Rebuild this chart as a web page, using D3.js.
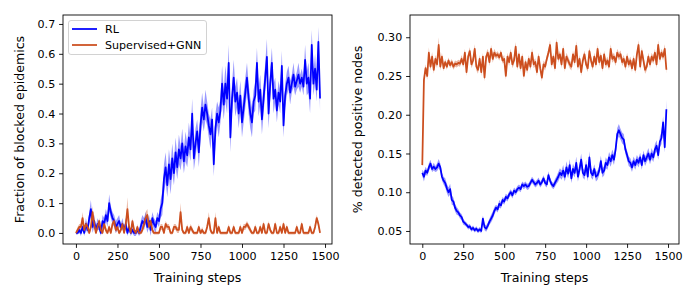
<!DOCTYPE html>
<html>
<head>
<meta charset="utf-8">
<script src="https://cdn.jsdelivr.net/npm/d3@7"></script>
<style>
  body { margin: 0; background: #fff; }
  svg { font-family: "DejaVu Sans", sans-serif; }
</style>
</head>
<body>
<script>
// left panel: fraction of blocked epidemics, steps 0..1470 every 10
var rlBlocked = [
  0.0, 0.0, 0.01, 0.0, 0.02, 0.0, 0.03, 0.01, 0.05, 0.08,
  0.02, 0.04, 0.01, 0.03, 0.02, 0.0, 0.04, 0.03, 0.06, 0.04,
  0.10, 0.07, 0.05, 0.04, 0.02, 0.03, 0.04, 0.02, 0.03, 0.01,
  0.03, 0.0, 0.02, 0.0, 0.01, 0.0, 0.0, 0.01, 0.0, 0.02,
  0.04, 0.03, 0.05, 0.02, 0.04, 0.01, 0.05, 0.03, 0.02, 0.05,
  0.04, 0.08, 0.10, 0.18, 0.22, 0.16, 0.23, 0.18, 0.25, 0.20,
  0.27, 0.22, 0.28, 0.25, 0.30, 0.24, 0.29, 0.26, 0.32, 0.28,
  0.40, 0.25, 0.30, 0.34, 0.27, 0.36, 0.42, 0.38, 0.43, 0.40,
  0.36, 0.33, 0.38, 0.23, 0.35, 0.40, 0.37, 0.41, 0.50, 0.43,
  0.50, 0.45, 0.57, 0.32, 0.45, 0.52, 0.44, 0.47, 0.40, 0.46,
  0.37, 0.42, 0.47, 0.52, 0.45, 0.40, 0.37, 0.44, 0.46, 0.57,
  0.44, 0.48, 0.38, 0.45, 0.52, 0.59, 0.40, 0.50, 0.57, 0.45,
  0.48, 0.41, 0.47, 0.44, 0.56, 0.36, 0.46, 0.50, 0.52, 0.47,
  0.50, 0.53, 0.49, 0.51, 0.53, 0.50, 0.52, 0.49, 0.58, 0.50,
  0.52, 0.45, 0.63, 0.50, 0.55, 0.48, 0.64, 0.45
];
var rlBlockedSpread = [
  0.005, 0.005, 0.01, 0.01, 0.01, 0.01, 0.02, 0.01, 0.02, 0.03,
  0.02, 0.02, 0.01, 0.02, 0.01, 0.01, 0.02, 0.02, 0.02, 0.02,
  0.03, 0.02, 0.02, 0.02, 0.02, 0.02, 0.02, 0.01, 0.02, 0.01,
  0.02, 0.01, 0.01, 0.01, 0.01, 0.01, 0.01, 0.01, 0.01, 0.02,
  0.02, 0.02, 0.02, 0.02, 0.02, 0.02, 0.02, 0.02, 0.02, 0.02,
  0.02, 0.03, 0.04, 0.05, 0.05, 0.04, 0.05, 0.05, 0.05, 0.04,
  0.05, 0.04, 0.05, 0.04, 0.05, 0.04, 0.05, 0.04, 0.05, 0.04,
  0.05, 0.04, 0.05, 0.04, 0.05, 0.05, 0.05, 0.04, 0.05, 0.04,
  0.04, 0.05, 0.04, 0.04, 0.05, 0.04, 0.05, 0.04, 0.06, 0.05,
  0.06, 0.05, 0.06, 0.05, 0.05, 0.06, 0.05, 0.05, 0.05, 0.05,
  0.05, 0.05, 0.05, 0.05, 0.05, 0.05, 0.05, 0.04, 0.05, 0.05,
  0.05, 0.05, 0.05, 0.05, 0.05, 0.06, 0.05, 0.05, 0.05, 0.05,
  0.04, 0.04, 0.04, 0.04, 0.05, 0.04, 0.04, 0.04, 0.04, 0.04,
  0.03, 0.04, 0.03, 0.03, 0.04, 0.03, 0.03, 0.03, 0.05, 0.04,
  0.05, 0.05, 0.05, 0.04, 0.05, 0.04, 0.05, 0.04
];
var gnnBlocked = [
  0.0, 0.01, 0.02, 0.02, 0.05, 0.01, 0.03, 0.02, 0.0, 0.02,
  0.07, 0.03, 0.0, 0.02, 0.04, 0.01, 0.0, 0.03, 0.01, 0.0,
  0.02, 0.0, 0.03, 0.04, 0.01, 0.02, 0.0, 0.01, 0.03, 0.0,
  0.03, 0.08, 0.02, 0.0, 0.04, 0.01, 0.0, 0.02, 0.0, 0.0,
  0.01, 0.03, 0.05, 0.06, 0.02, 0.04, 0.01, 0.0, 0.0, 0.0,
  0.0, 0.02, 0.02, 0.0, 0.03, 0.02, 0.02, 0.0, 0.0, 0.02,
  0.02, 0.01, 0.01, 0.07, 0.01, 0.0, 0.0, 0.02, 0.0, 0.02,
  0.01, 0.0, 0.0, 0.0, 0.02, 0.0, 0.01, 0.0, 0.0, 0.02,
  0.05, 0.01, 0.0, 0.0, 0.05, 0.0, 0.02, 0.0, 0.0, 0.0,
  0.0, 0.0, 0.02, 0.0, 0.0, 0.02, 0.0, 0.0, 0.0, 0.02,
  0.0, 0.02, 0.02, 0.03, 0.02, 0.01, 0.0, 0.0, 0.02, 0.0,
  0.0, 0.02, 0.0, 0.03, 0.0, 0.0, 0.03, 0.01, 0.0, 0.0,
  0.03, 0.0, 0.0, 0.02, 0.0, 0.03, 0.0, 0.02, 0.0, 0.0,
  0.0, 0.0, 0.0, 0.02, 0.0, 0.0, 0.03, 0.0, 0.0, 0.0,
  0.0, 0.02, 0.0, 0.0, 0.02, 0.05, 0.03, 0.0
];
var gnnBlockedSpread = [
  0.005, 0.01, 0.01, 0.01, 0.02, 0.01, 0.01, 0.01, 0.005, 0.01,
  0.02, 0.01, 0.005, 0.01, 0.01, 0.01, 0.005, 0.01, 0.01, 0.005,
  0.01, 0.005, 0.01, 0.01, 0.01, 0.01, 0.005, 0.01, 0.01, 0.005,
  0.01, 0.04, 0.01, 0.005, 0.01, 0.01, 0.005, 0.01, 0.005, 0.005,
  0.01, 0.01, 0.02, 0.02, 0.01, 0.01, 0.01, 0.005, 0.005, 0.005,
  0.005, 0.01, 0.01, 0.005, 0.01, 0.01, 0.01, 0.005, 0.005, 0.01,
  0.01, 0.01, 0.01, 0.03, 0.01, 0.005, 0.005, 0.01, 0.005, 0.01,
  0.01, 0.005, 0.005, 0.005, 0.01, 0.005, 0.01, 0.005, 0.005, 0.01,
  0.02, 0.01, 0.005, 0.005, 0.02, 0.005, 0.01, 0.005, 0.005, 0.005,
  0.005, 0.005, 0.01, 0.005, 0.005, 0.01, 0.005, 0.005, 0.005, 0.01,
  0.005, 0.01, 0.01, 0.01, 0.01, 0.01, 0.005, 0.005, 0.01, 0.005,
  0.005, 0.01, 0.005, 0.01, 0.005, 0.005, 0.01, 0.01, 0.005, 0.005,
  0.01, 0.005, 0.005, 0.01, 0.005, 0.01, 0.005, 0.01, 0.005, 0.005,
  0.005, 0.005, 0.005, 0.01, 0.005, 0.005, 0.01, 0.005, 0.005, 0.005,
  0.005, 0.01, 0.005, 0.005, 0.01, 0.01, 0.01, 0.005
];

// right panel: share of detected positive nodes, steps 0..1490 every 10
var rlDetected = [
  0.125, 0.12, 0.128, 0.125, 0.132, 0.137, 0.13, 0.133, 0.13, 0.132,
  0.137, 0.132, 0.12, 0.115, 0.112, 0.105, 0.10, 0.104, 0.09, 0.088,
  0.08, 0.076, 0.074, 0.07, 0.068, 0.062, 0.06, 0.058, 0.055, 0.056,
  0.052, 0.054, 0.051, 0.053, 0.05, 0.052, 0.05, 0.066, 0.055, 0.053,
  0.057, 0.062, 0.066, 0.07, 0.076, 0.08, 0.078, 0.085, 0.083, 0.09,
  0.088, 0.094, 0.092, 0.097, 0.10, 0.096, 0.102, 0.10, 0.104, 0.106,
  0.104, 0.11, 0.108, 0.11, 0.107, 0.108, 0.112, 0.116, 0.113, 0.11,
  0.112, 0.115, 0.11, 0.113, 0.118, 0.112, 0.11, 0.122, 0.115, 0.11,
  0.108, 0.112, 0.116, 0.12, 0.125, 0.122, 0.128, 0.12, 0.132, 0.124,
  0.135, 0.118, 0.13, 0.125, 0.138, 0.12, 0.13, 0.142, 0.125, 0.122,
  0.135, 0.12, 0.145, 0.125, 0.122, 0.13, 0.12, 0.122, 0.128, 0.14,
  0.125, 0.128, 0.138, 0.135, 0.145, 0.14, 0.148, 0.142, 0.155, 0.175,
  0.18, 0.175, 0.17, 0.168, 0.155, 0.148, 0.14, 0.138, 0.132, 0.14,
  0.135, 0.142, 0.138, 0.145, 0.135, 0.148, 0.14, 0.145, 0.15, 0.142,
  0.15, 0.145, 0.155, 0.16, 0.148, 0.165, 0.17, 0.19, 0.158, 0.207
];
var rlDetectedSpread = [
  0.004, 0.006, 0.005, 0.004, 0.005, 0.005, 0.004, 0.005, 0.004, 0.005,
  0.006, 0.005, 0.005, 0.005, 0.006, 0.006, 0.006, 0.007, 0.006, 0.005,
  0.005, 0.005, 0.004, 0.004, 0.004, 0.004, 0.003, 0.003, 0.003, 0.003,
  0.003, 0.003, 0.003, 0.003, 0.003, 0.003, 0.003, 0.004, 0.004, 0.004,
  0.004, 0.004, 0.005, 0.005, 0.005, 0.004, 0.004, 0.005, 0.004, 0.004,
  0.004, 0.004, 0.004, 0.004, 0.004, 0.004, 0.004, 0.004, 0.004, 0.004,
  0.004, 0.004, 0.004, 0.004, 0.004, 0.004, 0.004, 0.004, 0.004, 0.004,
  0.004, 0.004, 0.004, 0.004, 0.004, 0.004, 0.004, 0.005, 0.004, 0.004,
  0.004, 0.005, 0.005, 0.006, 0.006, 0.006, 0.007, 0.006, 0.008, 0.006,
  0.008, 0.006, 0.007, 0.006, 0.008, 0.006, 0.007, 0.008, 0.006, 0.006,
  0.007, 0.006, 0.008, 0.006, 0.006, 0.006, 0.006, 0.006, 0.006, 0.007,
  0.006, 0.006, 0.007, 0.006, 0.007, 0.007, 0.007, 0.007, 0.007, 0.008,
  0.008, 0.007, 0.007, 0.007, 0.006, 0.006, 0.006, 0.006, 0.006, 0.006,
  0.006, 0.006, 0.006, 0.006, 0.006, 0.006, 0.006, 0.006, 0.007, 0.006,
  0.007, 0.006, 0.007, 0.007, 0.006, 0.007, 0.008, 0.008, 0.007, 0.012
];
var gnnDetected = [
  0.135, 0.245, 0.26, 0.25, 0.28, 0.262, 0.275, 0.258, 0.272, 0.265,
  0.29, 0.262, 0.275, 0.26, 0.268, 0.262, 0.27, 0.264, 0.268, 0.262,
  0.266, 0.265, 0.267, 0.266, 0.272, 0.265, 0.28, 0.255, 0.275, 0.282,
  0.265, 0.27, 0.285, 0.262, 0.258, 0.272, 0.255, 0.275, 0.248, 0.275,
  0.28, 0.268, 0.285, 0.272, 0.28, 0.276, 0.278, 0.274, 0.28, 0.27,
  0.272, 0.25, 0.275, 0.268, 0.28, 0.265, 0.27, 0.288, 0.262, 0.278,
  0.26, 0.275, 0.25, 0.268, 0.258, 0.272, 0.262, 0.28, 0.265, 0.268,
  0.255, 0.275, 0.26, 0.248, 0.265, 0.262, 0.272, 0.28, 0.29, 0.265,
  0.275, 0.26, 0.293, 0.272, 0.278, 0.265, 0.285, 0.26, 0.275, 0.27,
  0.265, 0.262, 0.278, 0.268, 0.289, 0.262, 0.272, 0.255, 0.27, 0.278,
  0.265, 0.26, 0.282, 0.27, 0.262, 0.275, 0.265, 0.285, 0.268, 0.276,
  0.26, 0.278, 0.265, 0.27, 0.262, 0.285, 0.272, 0.275, 0.268, 0.28,
  0.275, 0.278, 0.268, 0.272, 0.262, 0.275, 0.265, 0.27, 0.26, 0.272,
  0.258, 0.278, 0.29, 0.262, 0.282, 0.27, 0.258, 0.262, 0.275, 0.265,
  0.275, 0.27, 0.28, 0.265, 0.29, 0.272, 0.28, 0.275, 0.285, 0.258
];
var gnnDetectedSpread = [
  0.002, 0.006, 0.005, 0.005, 0.007, 0.005, 0.006, 0.005, 0.005, 0.005,
  0.01, 0.005, 0.005, 0.004, 0.004, 0.004, 0.004, 0.004, 0.004, 0.004,
  0.004, 0.004, 0.004, 0.004, 0.005, 0.004, 0.005, 0.005, 0.005, 0.005,
  0.005, 0.005, 0.006, 0.005, 0.005, 0.005, 0.005, 0.005, 0.005, 0.005,
  0.005, 0.005, 0.005, 0.005, 0.005, 0.004, 0.004, 0.004, 0.004, 0.004,
  0.005, 0.005, 0.005, 0.005, 0.005, 0.005, 0.005, 0.006, 0.005, 0.005,
  0.005, 0.005, 0.005, 0.005, 0.005, 0.005, 0.005, 0.006, 0.005, 0.005,
  0.005, 0.005, 0.005, 0.005, 0.005, 0.005, 0.005, 0.005, 0.006, 0.005,
  0.005, 0.005, 0.006, 0.005, 0.005, 0.005, 0.005, 0.005, 0.005, 0.005,
  0.005, 0.005, 0.005, 0.005, 0.006, 0.005, 0.005, 0.005, 0.005, 0.005,
  0.005, 0.005, 0.005, 0.005, 0.005, 0.005, 0.005, 0.005, 0.005, 0.005,
  0.005, 0.005, 0.005, 0.005, 0.005, 0.006, 0.005, 0.005, 0.005, 0.005,
  0.005, 0.005, 0.005, 0.005, 0.005, 0.005, 0.005, 0.005, 0.005, 0.005,
  0.005, 0.005, 0.006, 0.005, 0.005, 0.005, 0.005, 0.005, 0.005, 0.005,
  0.005, 0.005, 0.005, 0.005, 0.006, 0.005, 0.005, 0.005, 0.006, 0.005
];

var stepSize = 10;
var xTicks = [0, 250, 500, 750, 1000, 1250, 1500];
var yTicksLeft = [0.0, 0.1, 0.2, 0.3, 0.4, 0.5, 0.6, 0.7];
var yTicksRight = [0.05, 0.10, 0.15, 0.20, 0.25, 0.30];
var seriesNames = ["RL", "Supervised+GNN"];
var colors = ["#0000ff", "#cc4e1e"];

var W = 700, H = 300;
var fontSize = 11.1;
var labelSize = 12.6;
var tickLen = 3.9;

var svg = d3.select("body").append("svg")
  .attr("width", W)
  .attr("height", H);

function drawPanel(opts) {
  var x = d3.scaleLinear().domain(opts.xDomain).range([opts.left, opts.right]);
  var y = d3.scaleLinear().domain(opts.yDomain).range([opts.bottom, opts.top]);

  var clipId = "clip" + opts.id;
  svg.append("clipPath").attr("id", clipId)
    .append("rect")
      .attr("x", opts.left).attr("y", opts.top)
      .attr("width", opts.right - opts.left)
      .attr("height", opts.bottom - opts.top);

  var g = svg.append("g").attr("clip-path", "url(#" + clipId + ")");

  opts.series.forEach(function(s) {
    var pts = s.values.map(function(v, i) {
      return { step: i * stepSize, v: v, sd: s.spread[i] };
    });
    var area = d3.area()
      .x(function(d) { return x(d.step); })
      .y0(function(d) { return y(d.v - d.sd); })
      .y1(function(d) { return y(d.v + d.sd); });
    var line = d3.line()
      .x(function(d) { return x(d.step); })
      .y(function(d) { return y(d.v); });
    g.append("path").datum(pts)
      .attr("d", area)
      .attr("fill", s.color)
      .attr("fill-opacity", 0.4)
      .attr("stroke", "none");
    s.path = line(pts);
  });
  opts.series.forEach(function(s) {
    g.append("path")
      .attr("d", s.path)
      .attr("fill", "none")
      .attr("stroke", s.color)
      .attr("stroke-width", 1.75)
      .attr("stroke-linejoin", "round");
  });

  // axes
  var xAxis = svg.append("g")
    .attr("transform", "translate(0," + opts.bottom + ")")
    .call(d3.axisBottom(x).tickValues(xTicks).tickSize(tickLen).tickPadding(3.9)
      .tickFormat(d3.format("d")));
  var yAxis = svg.append("g")
    .attr("transform", "translate(" + opts.left + ",0)")
    .call(d3.axisLeft(y).tickValues(opts.yTicks).tickSize(tickLen).tickPadding(3.9)
      .tickFormat(d3.format(opts.yFormat)));
  [xAxis, yAxis].forEach(function(a) {
    a.select(".domain").remove();
    a.selectAll("line").attr("stroke", "#000").attr("stroke-width", 0.89);
    a.selectAll("text")
      .attr("fill", "#000")
      .style("font-family", "DejaVu Sans")
      .style("font-size", fontSize + "px");
  });

  svg.append("rect")
    .attr("x", opts.left).attr("y", opts.top)
    .attr("width", opts.right - opts.left)
    .attr("height", opts.bottom - opts.top)
    .attr("fill", "none")
    .attr("stroke", "#000")
    .attr("stroke-width", 0.89);

  svg.append("text")
    .attr("x", (opts.left + opts.right) / 2)
    .attr("y", 282)
    .attr("text-anchor", "middle")
    .style("font-size", labelSize + "px")
    .text("Training steps");

  svg.append("text")
    .attr("transform", "translate(" + opts.ylabelX + "," + ((opts.top + opts.bottom) / 2) + ") rotate(-90)")
    .attr("text-anchor", "middle")
    .attr("dy", "0.35em")
    .style("font-size", labelSize + "px")
    .text(opts.ylabel);
}

drawPanel({
  id: 1, left: 63, right: 332, top: 15, bottom: 244,
  xDomain: [-78, 1542], yDomain: [-0.037, 0.730],
  yTicks: yTicksLeft, yFormat: ".1f",
  ylabel: "Fraction of blocked epidemics", ylabelX: 20,
  series: [
    { values: rlBlocked, spread: rlBlockedSpread, color: colors[0] },
    { values: gnnBlocked, spread: gnnBlockedSpread, color: colors[1] }
  ]
});

drawPanel({
  id: 2, left: 410, right: 679, top: 15, bottom: 244,
  xDomain: [-75, 1567], yDomain: [0.0332, 0.3287],
  yTicks: yTicksRight, yFormat: ".2f",
  ylabel: "% detected positive nodes", ylabelX: 358,
  series: [
    { values: rlDetected, spread: rlDetectedSpread, color: colors[0] },
    { values: gnnDetected, spread: gnnDetectedSpread, color: colors[1] }
  ]
});

// legend on left panel
var legend = svg.append("g");
legend.append("rect")
  .attr("x", 68.5).attr("y", 20.5)
  .attr("width", 138).attr("height", 34)
  .attr("rx", 2.5)
  .attr("fill", "#fff").attr("fill-opacity", 0.8)
  .attr("stroke", "#cccccc").attr("stroke-width", 0.89);
seriesNames.forEach(function(name, i) {
  var ly = 29 + i * 16;
  legend.append("line")
    .attr("x1", 72).attr("x2", 97)
    .attr("y1", ly).attr("y2", ly)
    .attr("stroke", colors[i]).attr("stroke-width", 1.75);
  legend.append("text")
    .attr("x", 105).attr("y", ly)
    .attr("dy", "0.35em")
    .style("font-size", fontSize + "px")
    .text(name);
});
</script>
</body>
</html>
